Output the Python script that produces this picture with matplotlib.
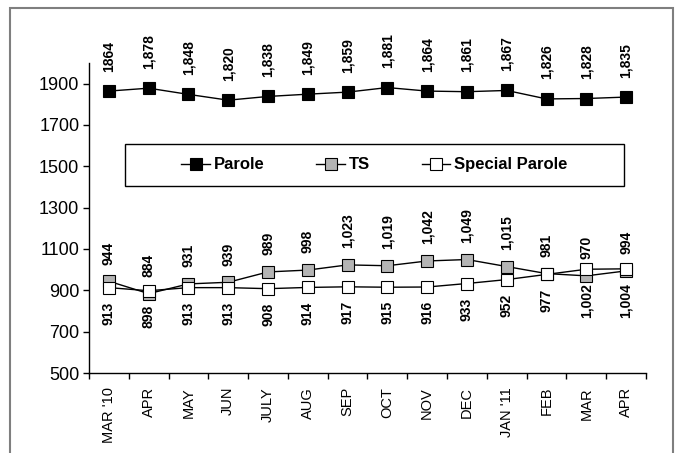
import matplotlib.pyplot as plt
from matplotlib.patches import Rectangle

plt.rcParams['font.family'] = ['Liberation Sans', 'DejaVu Sans']

months = ["MAR '10", "APR", "MAY", "JUN", "JULY", "AUG", "SEP", "OCT",
          "NOV", "DEC", "JAN '11", "FEB", "MAR", "APR"]
parole = [1864, 1878, 1848, 1820, 1838, 1849, 1859, 1881, 1864, 1861, 1867, 1826, 1828, 1835]
ts = [944, 884, 931, 939, 989, 998, 1023, 1019, 1042, 1049, 1015, 981, 970, 994]
special_parole = [913, 898, 913, 913, 908, 914, 917, 915, 916, 933, 952, 977, 1002, 1004]
y_ticks = [500, 700, 900, 1100, 1300, 1500, 1700, 1900]

fig = plt.figure(figsize=(6.86, 4.53), dpi=100)
ax = fig.add_axes([0.1297, 0.1766, 0.812, 0.6844])

x = list(range(len(months)))
style = dict(color='black', lw=1, marker='s', markersize=8.5, markeredgecolor='black', markeredgewidth=0.8)
ax.plot(x, parole, markerfacecolor='black', label='Parole', **style)
ax.plot(x, ts, markerfacecolor='#b4b4b4', label='TS', **style)
ax.plot(x, special_parole, markerfacecolor='white', label='Special Parole', **style)

# data labels
parole_labels = [f"{v:,}" for v in parole]
parole_labels[0] = str(parole[0])
lab = dict(rotation=90, fontsize=10, fontweight='bold', ha='center', textcoords='offset points')
for i, v in enumerate(parole):
    ax.annotate(parole_labels[i], (i, v), xytext=(0, 14), va='bottom', **lab)
for i, v in enumerate(ts):
    ax.annotate(f"{v:,}", (i, v), xytext=(0, 12), va='bottom', **lab)
for i, v in enumerate(special_parole):
    ax.annotate(f"{v:,}", (i, v), xytext=(0, -10), va='top', **lab)

ax.set_xlim(-0.5, len(months) - 0.5)
ax.set_ylim(500, 2000)
ax.set_yticks(y_ticks)
ax.tick_params(axis='y', labelsize=13, length=4, width=1, direction='out', pad=3)
ax.set_xticks(x)
ax.set_xticklabels(months, rotation=90, fontsize=10.5)
ax.set_xticks([i - 0.5 for i in range(len(months) + 1)], minor=True)
ax.tick_params(axis='x', which='major', length=0, pad=10)
ax.tick_params(axis='x', which='minor', length=4, width=1, direction='out')
for s in ['top', 'right']:
    ax.spines[s].set_visible(False)
for s in ['left', 'bottom']:
    ax.spines[s].set_linewidth(1)

# legend with box
leg = ax.legend(loc='center', bbox_to_anchor=(0.5126, 0.671), ncol=3, frameon=False,
                prop={'weight': 'bold', 'size': 12}, handlelength=1.7, handletextpad=0.25,
                columnspacing=3.1)
ax.add_patch(Rectangle((0.0646, 0.603), 0.896, 0.136, transform=ax.transAxes,
                       fill=False, edgecolor='black', lw=1, zorder=5))

# outer frame
fig.patches.append(Rectangle((10 / 686, -0.05), 663 / 686, 1.05 - 8 / 453,
                             transform=fig.transFigure, fill=False,
                             edgecolor='#7f7f7f', lw=1.5))

fig.savefig('out.png', dpi=100)
